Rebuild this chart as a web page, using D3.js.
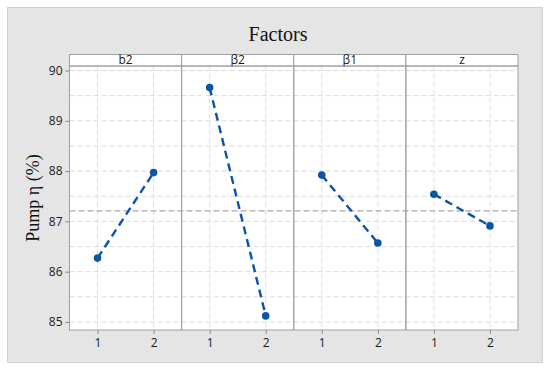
<!DOCTYPE html>
<html>
<head>
<meta charset="utf-8">
<script src="https://cdn.jsdelivr.net/npm/d3@7"></script>
<style>
  body { margin: 0; background: #fff; }
  svg { display: block; }
</style>
</head>
<body>
<svg></svg>
<script>
// main effects plot data
const factors = ["b2", "β2", "β1", "z"]
const levels = [1, 2]
const meansB2 = [86.27, 87.97]
const meansBeta2 = [89.66, 85.12]
const meansBeta1 = [87.92, 86.57]
const meansZ = [87.54, 86.91]
const grandMean = 87.21
const yTicks = [85, 86, 87, 88, 89, 90]

const series = [meansB2, meansBeta2, meansBeta1, meansZ]

const width = 550
const height = 370

const svg = d3.select('svg')
  .attr('width', width)
  .attr('height', height)

// outer gray frame
svg.append('rect')
  .attr('x', 7.5).attr('y', 7.5)
  .attr('width', 535).attr('height', 355)
  .attr('fill', '#e5e5e5')
  .attr('stroke', '#d2d2d2')

const plotLeft = 69.5, plotRight = 518, plotTop = 66, plotBottom = 330
const stripTop = 54.5
const tickFont = '"Open Sans", "Noto Sans", sans-serif'

var y = d3.scaleLinear()
  .domain([84.84, 90.09])
  .range([plotBottom, plotTop])

var panel = d3.scaleBand()
  .domain(factors)
  .range([plotLeft, plotRight])
  .paddingInner(0)

var x = d3.scaleLinear()
  .domain([0.5, 2.5])
  .range([0, panel.bandwidth()])

svg.append('text')
  .attr('x', 278)
  .attr('y', 41)
  .attr('text-anchor', 'middle')
  .attr('font-family', '"Liberation Serif", "Times New Roman", serif')
  .attr('font-size', 20)
  .attr('fill', '#111')
  .text('Factors')

svg.append('text')
  .attr('transform', `translate(39, ${(plotTop + plotBottom) / 2}) rotate(-90)`)
  .attr('text-anchor', 'middle')
  .attr('font-family', '"Liberation Serif", "Times New Roman", serif')
  .attr('font-size', 18)
  .attr('fill', '#111')
  .text('Pump η (%)')

// white plot background
svg.append('rect')
  .attr('x', plotLeft).attr('y', plotTop)
  .attr('width', plotRight - plotLeft).attr('height', plotBottom - plotTop)
  .attr('fill', '#fff')

var minorTicks = d3.range(85, 90.01, 0.5)

var g = svg.append('g')

factors.forEach(function(f, i) {
  var px = panel(f)
  var pg = g.append('g').attr('transform', `translate(${px},0)`)

  // horizontal grid
  pg.selectAll('.hgrid')
    .data(minorTicks)
    .enter().append('line')
      .attr('x1', 0).attr('x2', panel.bandwidth())
      .attr('y1', d => y(d)).attr('y2', d => y(d))
      .attr('stroke', '#dcdcdc')
      .attr('stroke-dasharray', '5,3')

  // vertical grid
  pg.selectAll('.vgrid')
    .data(levels)
    .enter().append('line')
      .attr('x1', d => x(d)).attr('x2', d => x(d))
      .attr('y1', plotTop).attr('y2', plotBottom)
      .attr('stroke', '#dcdcdc')
      .attr('stroke-dasharray', '5,3')

  // strip
  pg.append('rect')
    .attr('x', 0).attr('y', stripTop)
    .attr('width', panel.bandwidth()).attr('height', plotTop - stripTop)
    .attr('fill', '#fff')
    .attr('stroke', '#a0a0a0')

  pg.append('text')
    .attr('x', panel.bandwidth() / 2)
    .attr('y', plotTop - 2.5)
    .attr('text-anchor', 'middle')
    .attr('font-family', tickFont)
    .attr('font-size', 12)
    .attr('fill', '#1a1a1a')
    .text(f)

  // x axis
  var xAxis = d3.axisBottom(x).tickValues(levels).tickSize(4).tickFormat(d3.format('d'))
  var ax = pg.append('g')
    .attr('transform', `translate(0,${plotBottom})`)
    .call(xAxis)
  ax.select('.domain').remove()
  ax.selectAll('line').attr('stroke', '#888')
  ax.selectAll('text')
    .attr('font-family', tickFont)
    .attr('font-size', 12)
    .attr('fill', '#1a1a1a')
    .attr('dy', '0.85em')
})

// grand mean reference
svg.append('line')
  .attr('x1', plotLeft).attr('x2', plotRight)
  .attr('y1', y(grandMean)).attr('y2', y(grandMean))
  .attr('stroke', '#a8a8a8')
  .attr('stroke-width', 1.3)
  .attr('stroke-dasharray', '6,3')

// panel borders
factors.forEach(function(f, i) {
  svg.append('rect')
    .attr('x', panel(f)).attr('y', plotTop)
    .attr('width', panel.bandwidth()).attr('height', plotBottom - plotTop)
    .attr('fill', 'none')
    .attr('stroke', '#a0a0a0')
})

// y axis
var yAxis = d3.axisLeft(y).tickValues(yTicks).tickSize(4).tickFormat(d3.format('d'))
var yg = svg.append('g')
  .attr('transform', `translate(${plotLeft},0)`)
  .call(yAxis)
yg.select('.domain').remove()
yg.selectAll('line').attr('stroke', '#888')
yg.selectAll('text')
  .attr('font-family', tickFont)
  .attr('font-size', 12)
  .attr('fill', '#1a1a1a')

// effect lines + points
var line = d3.line()
  .x((d, i) => x(levels[i]))
  .y(d => y(d))

factors.forEach(function(f, i) {
  var pg = svg.append('g').attr('transform', `translate(${panel(f)},0)`)
  pg.append('path')
    .datum(series[i])
    .attr('d', line)
    .attr('fill', 'none')
    .attr('stroke', '#0a55a8')
    .attr('stroke-width', 2.4)
    .attr('stroke-dasharray', '8,5')
  pg.selectAll('circle')
    .data(series[i])
    .enter().append('circle')
      .attr('cx', (d, j) => x(levels[j]))
      .attr('cy', d => y(d))
      .attr('r', 3.8)
      .attr('fill', '#0a55a8')
})
</script>
</body>
</html>
